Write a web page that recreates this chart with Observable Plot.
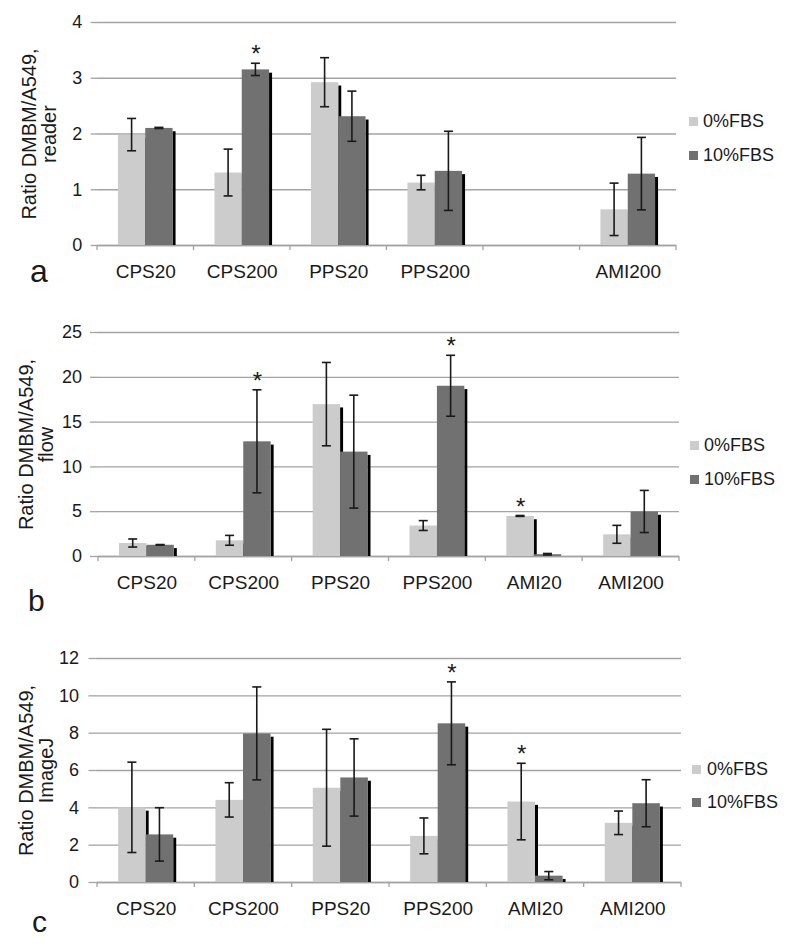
<!DOCTYPE html>
<html><head><meta charset="utf-8">
<script src="https://cdn.jsdelivr.net/npm/d3@7"></script>
<script src="https://cdn.jsdelivr.net/npm/@observablehq/plot@0.6"></script>
<style>
body{margin:0;background:#fff;font-family:"Liberation Sans",Arial,sans-serif;}
#root{position:relative;width:800px;height:948px;overflow:hidden;background:#fff;}
.panel{position:absolute;left:0;}
.leg{position:absolute;font-size:18px;line-height:18px;color:#1a1a1a;white-space:nowrap;}
.sw{position:absolute;width:9px;height:9px;}
.letter{position:absolute;line-height:1;color:#1a1a1a;}
</style></head><body><div id="root"></div>
<script>
const categories = ["CPS20","CPS200","PPS20","PPS200","AMI20","AMI200"];
const series = ["0%FBS","10%FBS"];
const colors = ["#cccccc","#717171"];

// Panel a (reader)
const labelsA = ["CPS20","CPS200","PPS20","PPS200","","AMI200"];
const ticksA = [0,1,2,3,4];
const a0 = [1.98,1.30,2.92,1.12,null,0.64];
const a0sd = [0.29,0.42,0.44,0.13,null,0.47];
const a1 = [2.10,3.15,2.31,1.33,null,1.28];
const a1sd = [0.01,0.11,0.45,0.71,null,0.65];
const starsA = [["CPS200","10%FBS"]];

// Panel b (flow)
const labelsB = ["CPS20","CPS200","PPS20","PPS200","AMI20","AMI200"];
const ticksB = [0,5,10,15,20,25];
const b0 = [1.45,1.75,16.95,3.40,4.47,2.42];
const b0sd = [0.45,0.55,4.65,0.55,0.05,1.0];
const b1 = [1.25,12.8,11.65,19.0,0.2,4.97];
const b1sd = [0.03,5.75,6.3,3.4,0.08,2.35];
const starsB = [["CPS200","10%FBS"],["PPS200","10%FBS"],["AMI20","0%FBS"]];

// Panel c (ImageJ)
const labelsC = ["CPS20","CPS200","PPS20","PPS200","AMI20","AMI200"];
const ticksC = [0,2,4,6,8,10,12];
const c0 = [4.0,4.4,5.05,2.47,4.31,3.17];
const c0sd = [2.42,0.92,3.13,0.96,2.05,0.63];
const c1 = [2.55,7.96,5.6,8.5,0.34,4.22];
const c1sd = [1.43,2.49,2.07,2.22,0.22,1.26];
const starsC = [["PPS200","10%FBS"],["AMI20","0%FBS"]];

const yLabels = ["Ratio DMBM/A549,\nreader","Ratio DMBM/A549,\nflow","Ratio DMBM/A549,\nImageJ"];
const letters = ["a","b","c"];

const panels = [
  {top:0, height:300, mt:22, mb:55, ml:97, mr:124, ticks:ticksA, labels:labelsA, v:[a0,a1], sd:[a0sd,a1sd], stars:starsA, yl:yLabels[0], ydx:-57.5, tickSize:6.3, tickPad:9,
   leg:{sx:689, tx:703, cy:[121,155]}, letter:{x:30, base:282, fs:32}},
  {top:300, height:320, mt:32, mb:64, ml:98, mr:121, ticks:ticksB, labels:labelsB, v:[b0,b1], sd:[b0sd,b1sd], stars:starsB, yl:yLabels[1], ydx:-61.5, tickSize:8, tickPad:8.5,
   leg:{sx:690, tx:704, cy:[445,479]}, letter:{x:28, base:611, fs:30}},
  {top:620, height:328, mt:38, mb:66, ml:97, mr:119, ticks:ticksC, labels:labelsC, v:[c0,c1], sd:[c0sd,c1sd], stars:starsC, yl:yLabels[2], ydx:-61, tickSize:8.5, tickPad:10,
   leg:{sx:692, tx:707, cy:[769,802]}, letter:{x:32, base:932, fs:30}}
];

const root = document.getElementById("root");
const GRID = "#a3a3a3";
const INK = "#1a1a1a";

panels.forEach((p, pi) => {
  const W = 800;
  const step = (W - p.ml - p.mr) / categories.length;
  const half = step / 2;
  const bw = step * 0.283;
  const sh = 3;
  const ins = (left, width) => ({insetLeft: left, insetRight: step - left - width});
  const rows = series.map((s, si) => categories.map((c, ci) => ({cat: c, series: s, value: p.v[si][ci], sd: p.sd[si][ci]})).filter(d => d.value != null));
  const starRows = p.stars.map(([c, s]) => {
    const si = series.indexOf(s), ci = categories.indexOf(c);
    return {cat: c, series: s, y: p.v[si][ci] + p.sd[si][ci]};
  });
  const centers = [half - bw / 2, half + bw / 2];
  const marks = [
    Plot.gridY(p.ticks, {stroke: GRID, strokeOpacity: 1, strokeWidth: 1.3}),
    Plot.axisY(p.ticks, {tickSize: p.tickSize, tickPadding: p.tickPad, stroke: GRID, strokeOpacity: 1, strokeWidth: 1.3, fill: INK, fontSize: 18, label: null, line: true, tickFormat: d => String(d)}),
    Plot.ruleY([0], {stroke: GRID, strokeWidth: 1.3}),
    Plot.axisX({tickSize: 0, tickPadding: 19, fontSize: 19, fill: INK, label: null, tickFormat: d => p.labels[categories.indexOf(d)]}),
    Plot.barY(categories, {x: d => d, y1: 0, y2: 0, insetTop: 0, insetBottom: -5, ...ins(-0.65, 1.3), fill: GRID}),
    Plot.barY([categories[categories.length - 1]], {x: d => d, y1: 0, y2: 0, insetTop: 0, insetBottom: -5, ...ins(step - 0.65, 1.3), fill: GRID})
  ];
  series.forEach((s, si) => {
    const left = si === 0 ? half - bw : half;
    marks.push(Plot.barY(rows[si], {x: "cat", y: "value", ...ins(left + bw, sh), insetTop: 3.3, fill: "#000"}));
    marks.push(Plot.barY(rows[si], {x: "cat", y: "value", ...ins(left, bw), fill: colors[si]}));
  });
  series.forEach((s, si) => {
    const cx = centers[si];
    marks.push(Plot.barY(rows[si], {x: "cat", y1: d => Math.max(0, d.value - d.sd), y2: d => d.value + d.sd, ...ins(cx - 0.8, 1.6), fill: INK}));
    marks.push(Plot.barY(rows[si], {x: "cat", y1: d => d.value + d.sd, y2: d => d.value + d.sd, insetTop: -0.8, insetBottom: -0.8, ...ins(cx - 4.5, 9), fill: INK}));
    marks.push(Plot.barY(rows[si], {x: "cat", y1: d => Math.max(0, d.value - d.sd), y2: d => Math.max(0, d.value - d.sd), insetTop: -0.8, insetBottom: -0.8, ...ins(cx - 4.5, 9), fill: INK}));
  });
  series.forEach((s, si) => {
    marks.push(Plot.text(starRows.filter(d => d.series === s), {x: "cat", y: "y", text: () => "*", dx: si === 0 ? -bw / 2 : bw / 2, dy: -9, fontSize: 24, fill: INK, lineAnchor: "middle"}));
  });
  marks.push(Plot.text([p.yl], {frameAnchor: "left", text: d => d, rotate: -90, dx: p.ydx, fontSize: 20, lineHeight: 1.0, textAnchor: "middle", lineAnchor: "middle", fill: INK}));

  const chart = Plot.plot({
    width: W,
    height: p.height,
    marginTop: p.mt,
    marginBottom: p.mb,
    marginLeft: p.ml,
    marginRight: p.mr,
    style: {fontFamily: '"Liberation Sans", Arial, sans-serif', fontSize: "18px", background: "transparent", overflow: "visible", color: INK},
    x: {type: "band", domain: categories, padding: 0, round: false},
    y: {domain: [p.ticks[0], p.ticks[p.ticks.length - 1]]},
    marks
  });
  chart.classList.add("panel");
  chart.style.top = p.top + "px";
  root.appendChild(chart);

  series.forEach((s, si) => {
    const sw = document.createElement("div");
    sw.className = "sw";
    sw.style.left = p.leg.sx + "px";
    sw.style.top = (p.leg.cy[si] - 4.5) + "px";
    sw.style.background = colors[si];
    root.appendChild(sw);
    const t = document.createElement("div");
    t.className = "leg";
    t.style.left = p.leg.tx + "px";
    t.style.top = (p.leg.cy[si] - 8.8) + "px";
    t.textContent = s;
    root.appendChild(t);
  });
  const L = document.createElement("div");
  L.className = "letter";
  L.style.fontSize = p.letter.fs + "px";
  L.style.left = p.letter.x + "px";
  L.style.top = (p.letter.base - 0.8465 * p.letter.fs) + "px";
  L.textContent = letters[pi];
  root.appendChild(L);
});
</script></body></html>
